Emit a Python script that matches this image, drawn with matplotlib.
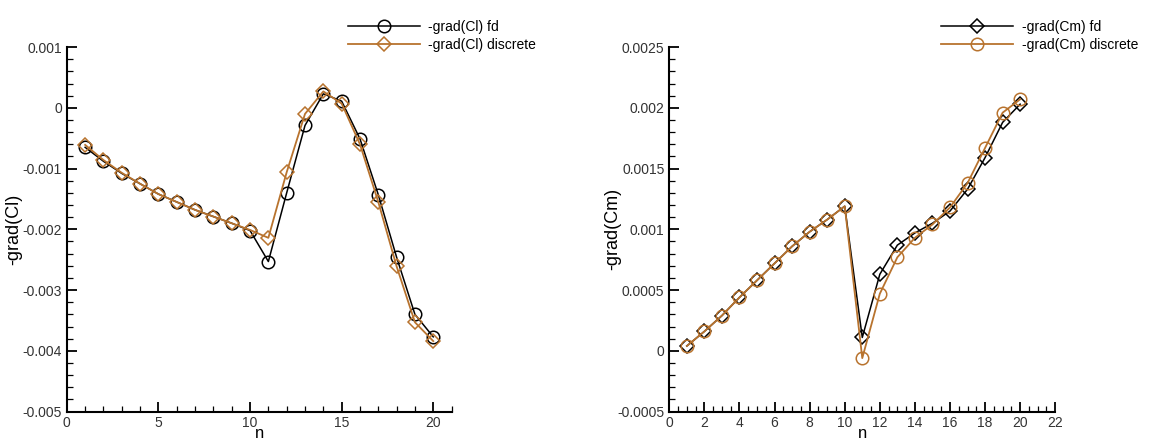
import matplotlib
matplotlib.use('Agg')
import matplotlib.pyplot as plt
from matplotlib.ticker import MultipleLocator, FuncFormatter

# data
n = list(range(1, 21))
cl_fd = [-0.00065, -0.00088, -0.00108, -0.00125, -0.00142, -0.00155, -0.00168, -0.00179, -0.00190, -0.00202,
         -0.00253, -0.00140, -0.00029, 0.00023, 0.00011, -0.00051, -0.00143, -0.00246, -0.00340, -0.00377]
cl_disc = [-0.00061, -0.00086, -0.00107, -0.00125, -0.00142, -0.00155, -0.00168, -0.00179, -0.00190, -0.00201,
           -0.00214, -0.00106, -0.00010, 0.00027, 0.00007, -0.00060, -0.00155, -0.00261, -0.00353, -0.00384]
cm_fd = [0.00004, 0.00016, 0.00029, 0.00044, 0.00058, 0.00072, 0.00086, 0.00098, 0.00108, 0.00119,
         0.00011, 0.00063, 0.00087, 0.00097, 0.00105, 0.00115, 0.00133, 0.00159, 0.00188, 0.00203]
cm_disc = [0.00004, 0.00016, 0.00029, 0.00044, 0.00058, 0.00072, 0.00086, 0.00098, 0.00108, 0.00119,
           -0.00006, 0.00047, 0.00077, 0.00093, 0.00104, 0.00118, 0.00138, 0.00167, 0.00196, 0.00207]

brown = '#b8732e'
plt.rcParams['font.family'] = ['Liberation Sans', 'DejaVu Sans']


def fmt(v, pos):
    s = ('%.4f' % v).rstrip('0').rstrip('.')
    if s in ('-0', ''):
        s = '0'
    return s


def style_axis(ax):
    for side in ('top', 'right'):
        ax.spines[side].set_visible(False)
    for side in ('left', 'bottom'):
        ax.spines[side].set_linewidth(1.5)
    ax.tick_params(which='both', direction='in', colors='black', labelcolor='#333333', labelsize=10)
    ax.tick_params(which='major', length=7, width=1.3)
    ax.tick_params(which='minor', length=4, width=0.9)
    ax.yaxis.set_major_formatter(FuncFormatter(fmt))


fig = plt.figure(figsize=(11.52, 4.44), dpi=100)
ax1 = fig.add_axes([0.058, 0.073, 0.334, 0.821])
ax2 = fig.add_axes([0.581, 0.073, 0.335, 0.821])

leg_kw = dict(frameon=False, fontsize=10, handlelength=5.2, handletextpad=0.6,
              labelspacing=0.3, borderaxespad=0, loc='upper left')

# left: Cl
ax1.plot(n, cl_fd, color='black', lw=1.1, marker='o', ms=9, mfc='none', mec='black', mew=1.1,
         label='-grad(Cl) fd')
ax1.plot(n, cl_disc, color=brown, lw=1.3, marker='D', ms=7, mfc='none', mec=brown, mew=1.1,
         label='-grad(Cl) discrete')
ax1.set_xlim(0, 21)
ax1.set_ylim(-0.005, 0.001)
ax1.xaxis.set_major_locator(MultipleLocator(5))
ax1.xaxis.set_minor_locator(MultipleLocator(1))
ax1.yaxis.set_major_locator(MultipleLocator(0.001))
ax1.yaxis.set_minor_locator(MultipleLocator(0.0002))
style_axis(ax1)
ax1.set_xlabel('n', fontsize=12, labelpad=-3)
ax1.set_ylabel('-grad(Cl)', fontsize=13, labelpad=0)
ax1.legend(bbox_to_anchor=(0.297, 0.968), bbox_transform=fig.transFigure, **leg_kw)

# right: Cm
ax2.plot(n, cm_fd, color='black', lw=1.1, marker='D', ms=7, mfc='none', mec='black', mew=1.1,
         label='-grad(Cm) fd')
ax2.plot(n, cm_disc, color=brown, lw=1.3, marker='o', ms=9, mfc='none', mec=brown, mew=1.1,
         label='-grad(Cm) discrete')
ax2.set_xlim(0, 22)
ax2.set_ylim(-0.0005, 0.0025)
ax2.xaxis.set_major_locator(MultipleLocator(2))
ax2.xaxis.set_minor_locator(MultipleLocator(0.5))
ax2.yaxis.set_major_locator(MultipleLocator(0.0005))
ax2.yaxis.set_minor_locator(MultipleLocator(0.0001))
style_axis(ax2)
ax2.set_xlabel('n', fontsize=12, labelpad=-3)
ax2.set_ylabel('-grad(Cm)', fontsize=13, labelpad=-3)
ax2.legend(bbox_to_anchor=(0.812, 0.968), bbox_transform=fig.transFigure, **leg_kw)

fig.savefig('out.png', dpi=100)
